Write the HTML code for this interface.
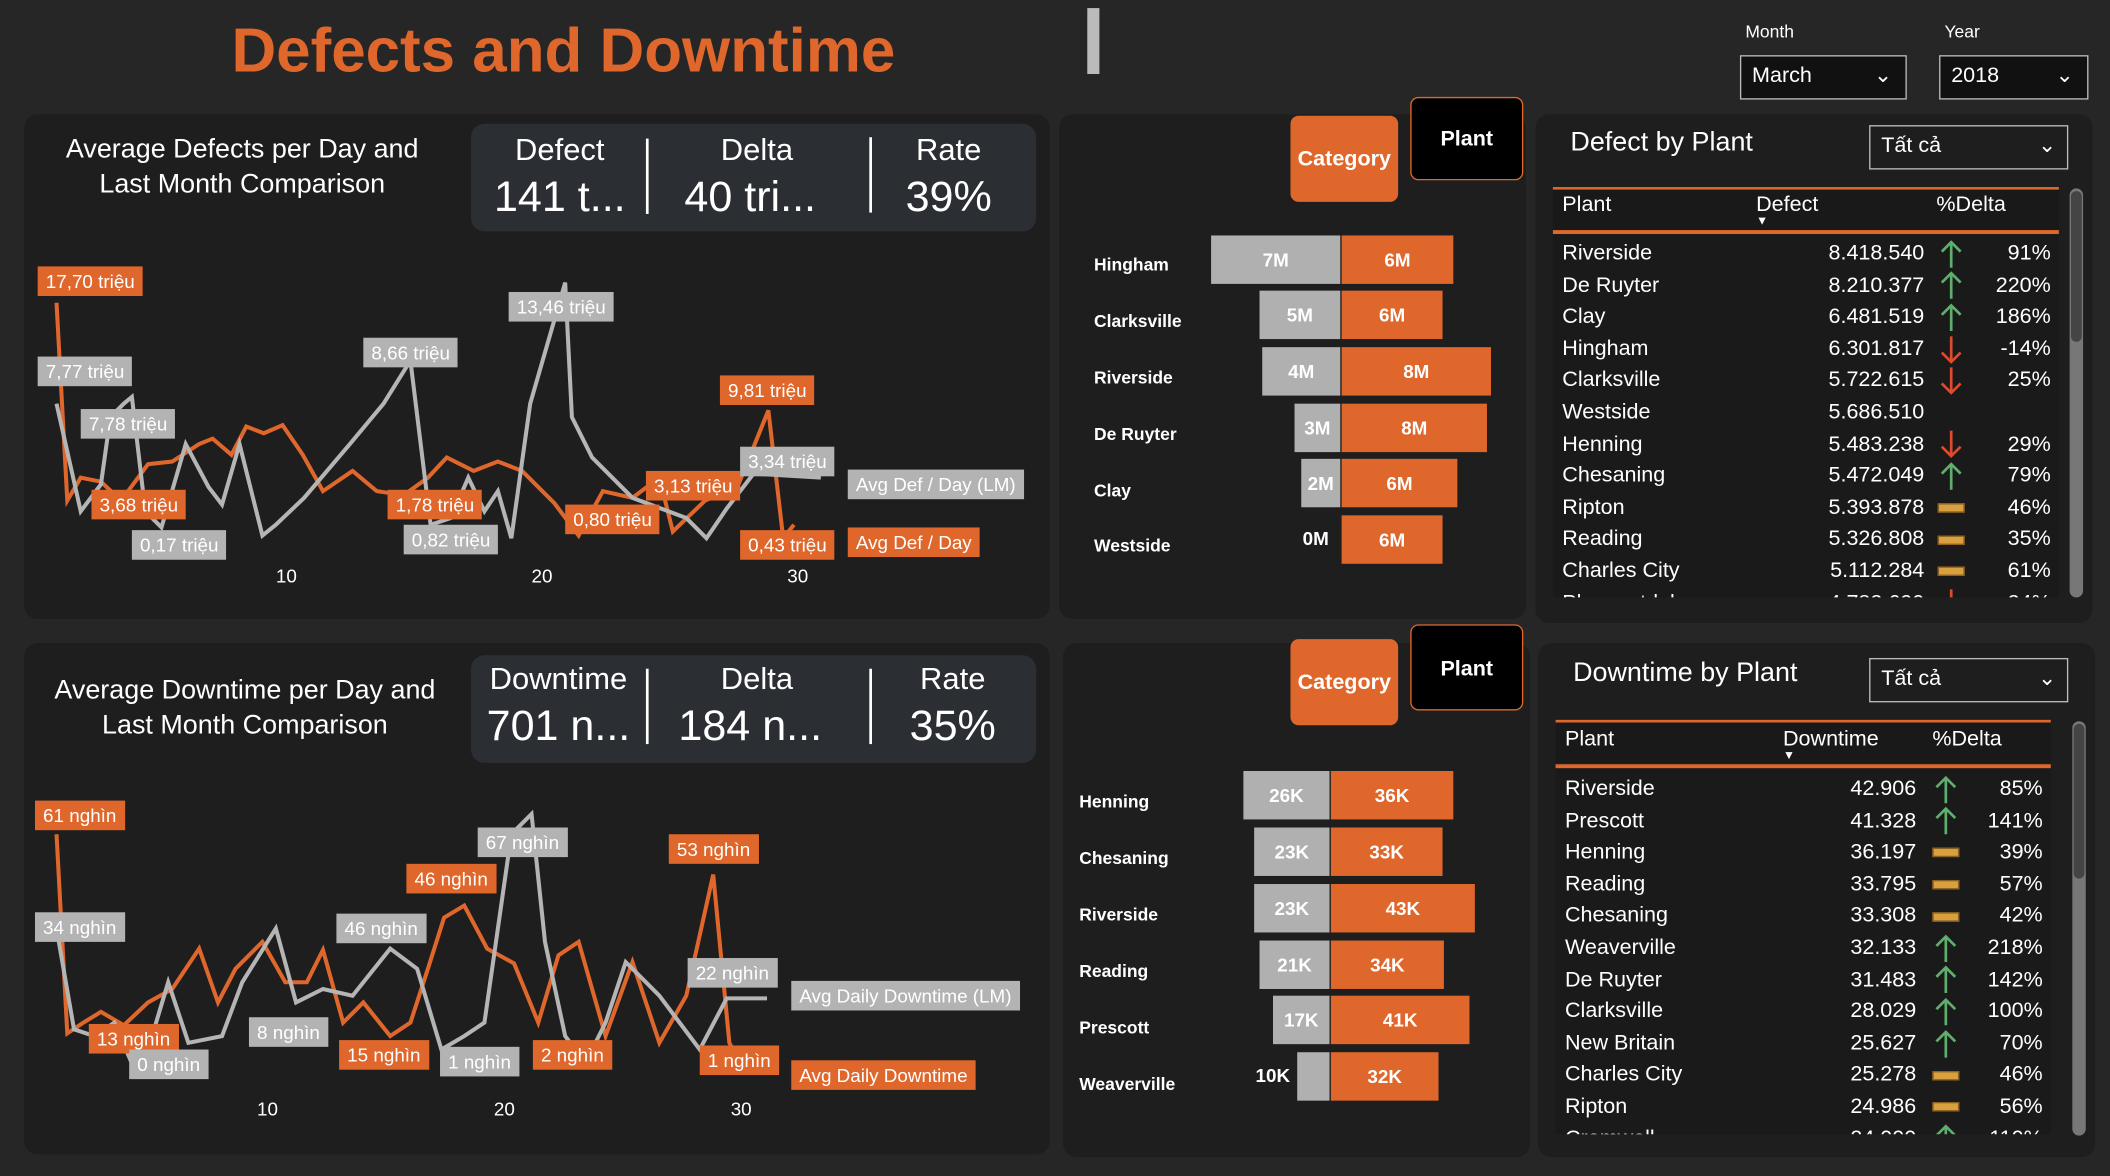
<!DOCTYPE html>
<html><head><meta charset="utf-8"><style>
*{margin:0;padding:0;box-sizing:border-box}
body{width:2110px;height:1176px;background:#262626;overflow:hidden;font-family:"Liberation Sans",sans-serif;color:#fff}
#w{width:1568px;height:874px;transform:scale(1.34566,1.34554);transform-origin:0 0;position:relative}
.a{position:absolute}
.p{position:absolute;background:#1e1e1e;border-radius:10px}
.kpi{position:absolute;background:#2b2e33;border-radius:10px}
.t{position:absolute;white-space:nowrap}
.lo{position:absolute;background:#e0672c;color:#fff;font-size:14px;padding:1px 6px;white-space:nowrap;line-height:20px}
.lg{position:absolute;background:#b3b3b3;color:#fff;font-size:14px;padding:1px 6px;white-space:nowrap;line-height:20px}
.btn{position:absolute;font-weight:bold;font-size:16px;text-align:center;border-radius:6px}
.bl{font-size:13px;font-weight:bold;position:absolute}
.bg{position:absolute;background:#b0b0b0;color:#fff;font-weight:bold;font-size:14px;text-align:center;line-height:36px;height:36px}
.bo{position:absolute;background:#e0672c;color:#fff;font-weight:bold;font-size:14px;text-align:center;line-height:36px;height:36px}
.row{position:absolute;font-size:16px;height:23px;line-height:23px}
.sel{position:absolute;border:1px solid #bbb;font-size:16px;padding:0 8px;line-height:30px}
</style></head><body><div id="w">
<div class="t" style="left:172px;top:10px;font-size:46px;font-weight:bold;color:#e0672c">Defects and Downtime</div>
<div class="a" style="left:808px;top:6px;width:9px;height:49px;background:#bbb"></div>
<div class="t" style="left:1297px;top:16px;font-size:13px">Month</div>
<div class="t" style="left:1445px;top:16px;font-size:13px">Year</div>
<div class="sel" style="left:1293px;top:41px;width:124px;height:33px;background:#111">March<span style="position:absolute;right:10px;top:0">&#8964;</span></div>
<div class="sel" style="left:1441px;top:41px;width:111px;height:33px;background:#111">2018<span style="position:absolute;right:10px;top:0">&#8964;</span></div>

<!-- top-left panel -->
<div class="p" style="left:18px;top:85px;width:762px;height:375px"></div>
<div class="t" style="left:30px;top:98px;width:300px;text-align:center;font-size:20px;line-height:26px;white-space:normal">Average Defects per Day and Last Month Comparison</div>
<div class="kpi" style="left:350px;top:92px;width:420px;height:80px"></div>
<div class="t" style="left:360px;top:98px;width:112px;text-align:center;font-size:23px">Defect</div>
<div class="t" style="left:360px;top:128px;width:112px;text-align:center;font-size:32px">141 t...</div>
<div class="a" style="left:480px;top:103px;width:2px;height:56px;background:#fff"></div>
<div class="t" style="left:495px;top:98px;width:135px;text-align:center;font-size:23px">Delta</div>
<div class="t" style="left:495px;top:128px;width:125px;text-align:center;font-size:32px">40 tri...</div>
<div class="a" style="left:646px;top:102px;width:2px;height:56px;background:#fff"></div>
<div class="t" style="left:660px;top:98px;width:90px;text-align:center;font-size:23px">Rate</div>
<div class="t" style="left:660px;top:128px;width:90px;text-align:center;font-size:32px">39%</div>
<svg class="a" style="left:0;top:0" width="780" height="470">
<polyline fill="none" stroke="#e0672c" stroke-width="3" points="42,225 50,372 60,355 75,358 90,372 110,345 128,343 148,330 158,326 172,338 183,317 196,322 210,316 225,338 240,365 262,350 280,365 300,368 318,355 332,340 352,350 370,343 388,350 412,374 430,398 448,365 470,370 490,355 500,395 524,372 548,362 571,305 582,400 590,390"/>
<polyline fill="none" stroke="#b5b5b5" stroke-width="3" points="42,300 60,380 75,360 82,310 92,300 98,295 108,380 120,392 138,330 155,362 165,375 178,330 195,398 205,390 226,370 260,330 285,300 305,268 320,390 335,385 348,355 360,380 370,365 380,400 394,300 420,210 425,310 440,340 470,370 510,385 525,400 540,378 560,352 610,355"/>
</svg>
<div class="lo" style="left:28px;top:198px">17,70 triệu</div>
<div class="lg" style="left:28px;top:265px">7,77 triệu</div>
<div class="lg" style="left:60px;top:304px">7,78 triệu</div>
<div class="lo" style="left:68px;top:364px">3,68 triệu</div>
<div class="lg" style="left:98px;top:394px">0,17 triệu</div>
<div class="lg" style="left:270px;top:251px">8,66 triệu</div>
<div class="lg" style="left:378px;top:217px">13,46 triệu</div>
<div class="lo" style="left:288px;top:364px">1,78 triệu</div>
<div class="lg" style="left:300px;top:390px">0,82 triệu</div>
<div class="lo" style="left:420px;top:375px">0,80 triệu</div>
<div class="lo" style="left:480px;top:350px">3,13 triệu</div>
<div class="lo" style="left:535px;top:279px">9,81 triệu</div>
<div class="lg" style="left:550px;top:332px">3,34 triệu</div>
<div class="lo" style="left:550px;top:394px">0,43 triệu</div>
<div class="lg" style="left:630px;top:349px">Avg Def / Day (LM)</div>
<div class="lo" style="left:630px;top:392px">Avg Def / Day</div>
<div class="t" style="left:205px;top:420px;font-size:14px">10</div>
<div class="t" style="left:395px;top:420px;font-size:14px">20</div>
<div class="t" style="left:585px;top:420px;font-size:14px">30</div>

<!-- bottom-left -->
<div class="p" style="left:18px;top:478px;width:762px;height:380px"></div>
<svg class="a" style="left:0;top:0" width="780" height="874">
<polyline fill="none" stroke="#e0672c" stroke-width="3" points="42,620 50,768 62,760 75,752 92,762 110,745 128,735 148,705 162,745 175,720 195,700 212,730 228,730 240,706 255,760 270,745 290,770 305,760 318,720 330,682 345,673 362,705 382,716 400,760 415,710 430,700 450,770 470,715 490,775 510,740 530,650 542,775 550,790"/>
<polyline fill="none" stroke="#b5b5b5" stroke-width="3" points="42,690 55,765 70,770 85,760 100,795 110,780 125,730 140,775 165,770 180,730 205,690 220,745 240,735 262,740 290,705 310,720 328,780 345,770 360,760 380,620 395,605 405,700 420,770 435,790 450,760 465,715 490,740 505,760 520,780 540,742 570,742"/>
</svg>
<div class="t" style="left:32px;top:500px;width:300px;text-align:center;font-size:20px;line-height:26px;white-space:normal">Average Downtime per Day and Last Month Comparison</div>
<div class="kpi" style="left:350px;top:487px;width:420px;height:80px"></div>
<div class="t" style="left:355px;top:491px;width:120px;text-align:center;font-size:23px">Downtime</div>
<div class="t" style="left:355px;top:521px;width:120px;text-align:center;font-size:32px">701 n...</div>
<div class="a" style="left:480px;top:497px;width:2px;height:56px;background:#fff"></div>
<div class="t" style="left:495px;top:491px;width:135px;text-align:center;font-size:23px">Delta</div>
<div class="t" style="left:495px;top:521px;width:125px;text-align:center;font-size:32px">184 n...</div>
<div class="a" style="left:646px;top:497px;width:2px;height:56px;background:#fff"></div>
<div class="t" style="left:663px;top:491px;width:90px;text-align:center;font-size:23px">Rate</div>
<div class="t" style="left:663px;top:521px;width:90px;text-align:center;font-size:32px">35%</div>
<div class="lo" style="left:26px;top:595px">61 nghìn</div>
<div class="lg" style="left:26px;top:678px">34 nghìn</div>
<div class="lo" style="left:66px;top:761px">13 nghìn</div>
<div class="lg" style="left:96px;top:780px">0 nghìn</div>
<div class="lg" style="left:185px;top:756px">8 nghìn</div>
<div class="lg" style="left:250px;top:679px">46 nghìn</div>
<div class="lo" style="left:302px;top:642px">46 nghìn</div>
<div class="lg" style="left:355px;top:615px">67 nghìn</div>
<div class="lo" style="left:252px;top:773px">15 nghìn</div>
<div class="lg" style="left:327px;top:778px">1 nghìn</div>
<div class="lo" style="left:396px;top:773px">2 nghìn</div>
<div class="lo" style="left:497px;top:620px">53 nghìn</div>
<div class="lg" style="left:511px;top:712px">22 nghìn</div>
<div class="lo" style="left:520px;top:777px">1 nghìn</div>
<div class="lg" style="left:588px;top:729px">Avg Daily Downtime (LM)</div>
<div class="lo" style="left:588px;top:788px">Avg Daily Downtime</div>
<div class="t" style="left:191px;top:816px;font-size:14px">10</div>
<div class="t" style="left:367px;top:816px;font-size:14px">20</div>
<div class="t" style="left:543px;top:816px;font-size:14px">30</div>

<!-- top middle bars -->
<div class="p" style="left:787px;top:85px;width:347px;height:375px"></div>
<div class="btn" style="left:959px;top:86px;width:80px;height:64px;background:#e0672c;line-height:66px">Category</div>
<div class="btn" style="left:1048px;top:72px;width:84px;height:62px;background:#000;border:1px solid #e0672c;line-height:62px">Plant</div>
<div class="bl" style="left:813px;top:189px">Hingham</div>
<div class="bl" style="left:813px;top:231px">Clarksville</div>
<div class="bl" style="left:813px;top:273px">Riverside</div>
<div class="bl" style="left:813px;top:315px">De Ruyter</div>
<div class="bl" style="left:813px;top:357px">Clay</div>
<div class="bl" style="left:813px;top:398px">Westside</div>
<div class="bg" style="left:900px;top:175px;width:96px">7M</div><div class="bo" style="left:997px;top:175px;width:83px">6M</div>
<div class="bg" style="left:936px;top:216px;width:60px">5M</div><div class="bo" style="left:997px;top:216px;width:75px">6M</div>
<div class="bg" style="left:938px;top:258px;width:58px">4M</div><div class="bo" style="left:997px;top:258px;width:111px">8M</div>
<div class="bg" style="left:962px;top:300px;width:34px">3M</div><div class="bo" style="left:997px;top:300px;width:108px">8M</div>
<div class="bg" style="left:967px;top:341px;width:29px">2M</div><div class="bo" style="left:997px;top:341px;width:86px">6M</div>
<div class="t" style="left:968px;top:392px;font-size:14px;font-weight:bold">0M</div><div class="bo" style="left:997px;top:383px;width:75px">6M</div>

<!-- bottom middle bars -->
<div class="p" style="left:790px;top:478px;width:347px;height:382px"></div>
<div class="btn" style="left:959px;top:475px;width:80px;height:64px;background:#e0672c;line-height:66px">Category</div>
<div class="btn" style="left:1048px;top:464px;width:84px;height:64px;background:#000;border:1px solid #e0672c;line-height:66px">Plant</div>
<div class="bl" style="left:802px;top:588px">Henning</div>
<div class="bl" style="left:802px;top:630px">Chesaning</div>
<div class="bl" style="left:802px;top:672px">Riverside</div>
<div class="bl" style="left:802px;top:714px">Reading</div>
<div class="bl" style="left:802px;top:756px">Prescott</div>
<div class="bl" style="left:802px;top:798px">Weaverville</div>
<div class="bg" style="left:924px;top:573px;width:64px">26K</div><div class="bo" style="left:989px;top:573px;width:91px">36K</div>
<div class="bg" style="left:932px;top:615px;width:56px">23K</div><div class="bo" style="left:989px;top:615px;width:83px">33K</div>
<div class="bg" style="left:932px;top:657px;width:56px">23K</div><div class="bo" style="left:989px;top:657px;width:107px">43K</div>
<div class="bg" style="left:936px;top:699px;width:52px">21K</div><div class="bo" style="left:989px;top:699px;width:84px">34K</div>
<div class="bg" style="left:946px;top:740px;width:42px">17K</div><div class="bo" style="left:989px;top:740px;width:103px">41K</div>
<div class="bg" style="left:964px;top:782px;width:24px"></div><div class="t" style="left:933px;top:791px;font-size:14px;font-weight:bold">10K</div><div class="bo" style="left:989px;top:782px;width:80px">32K</div>

<!-- defect table -->
<div class="p" style="left:1141px;top:85px;width:414px;height:378px"></div>
<div class="t" style="left:1167px;top:95px;font-size:20px">Defect by Plant</div>
<div class="sel" style="left:1389px;top:93px;width:148px;height:33px">Tất cả<span style="position:absolute;right:8px;top:0">&#8964;</span></div>
<div class="a" style="left:1154px;top:139px;width:376px;height:2px;background:#e0672c"></div>
<div class="a" style="left:1154px;top:141px;width:376px;height:30px;background:#191919"></div>
<div class="a" style="left:1154px;top:171px;width:376px;height:3px;background:#e0672c"></div>
<div class="t" style="left:1161px;top:144px;font-size:16px">Plant</div>
<div class="t" style="left:1305px;top:144px;font-size:16px">Defect</div>
<div class="t" style="left:1305px;top:159px;font-size:9px">&#9660;</div>
<div class="t" style="left:1439px;top:144px;font-size:16px">%Delta</div>
<div class="a" style="left:1154px;top:174px;width:376px;height:270px;background:#1a1a1a;overflow:hidden;font-size:16px">
<div id="dt"></div></div>
<div class="a" style="left:1538px;top:140px;width:10px;height:304px;border-radius:5px;background:#777"></div>
<div class="a" style="left:1539px;top:142px;width:8px;height:112px;border-radius:4px;background:#444"></div>

<!-- downtime table -->
<div class="p" style="left:1143px;top:478px;width:414px;height:382px"></div>
<div class="t" style="left:1169px;top:489px;font-size:20px">Downtime by Plant</div>
<div class="sel" style="left:1389px;top:489px;width:148px;height:33px">Tất cả<span style="position:absolute;right:8px;top:0">&#8964;</span></div>
<div class="a" style="left:1156px;top:535px;width:368px;height:2px;background:#e0672c"></div>
<div class="a" style="left:1156px;top:537px;width:368px;height:30px;background:#191919"></div>
<div class="a" style="left:1156px;top:568px;width:368px;height:3px;background:#e0672c"></div>
<div class="t" style="left:1163px;top:541px;font-size:16px">Plant</div>
<div class="t" style="left:1325px;top:541px;font-size:16px">Downtime</div>
<div class="t" style="left:1325px;top:556px;font-size:9px">&#9660;</div>
<div class="t" style="left:1436px;top:541px;font-size:16px">%Delta</div>
<div class="a" style="left:1156px;top:571px;width:368px;height:272px;background:#1a1a1a;overflow:hidden;font-size:16px">
<div id="dd"></div></div>
<div class="a" style="left:1540px;top:536px;width:10px;height:308px;border-radius:5px;background:#777"></div>
<div class="a" style="left:1541px;top:538px;width:8px;height:115px;border-radius:4px;background:#444"></div>
</div>
<script>
function ic(k){if(k=='u')return '<svg width="20" height="22" style="vertical-align:middle"><path d="M10 21V2M3 9L10 2L17 9" fill="none" stroke="#5fae6e" stroke-width="2"/></svg>';if(k=='d')return '<svg width="20" height="22" style="vertical-align:middle"><path d="M10 1V20M3 13L10 20L17 13" fill="none" stroke="#e04a2c" stroke-width="2"/></svg>';if(k=='m')return '<span style="display:inline-block;width:20px;height:7px;background:#d9a040;border:1px solid #8a6020;vertical-align:middle"></span>';return '';}
function build(id,rows,cx,vx,ix,px,sp,top){var h='';rows.forEach(function(r,i){var y=top+i*sp;h+='<div class="row" style="left:'+cx+'px;top:'+y+'px">'+r[0]+'</div><div class="row" style="right:'+vx+'px;top:'+y+'px">'+r[1]+'</div><div class="row" style="left:'+ix+'px;top:'+y+'px">'+ic(r[2])+'</div><div class="row" style="right:'+px+'px;top:'+y+'px">'+r[3]+'</div>';});document.getElementById(id).innerHTML=h;}
build('dt',[["Riverside","8.418.540","u","91%"],["De Ruyter","8.210.377","u","220%"],["Clay","6.481.519","u","186%"],["Hingham","6.301.817","d","-14%"],["Clarksville","5.722.615","d","25%"],["Westside","5.686.510","",""],["Henning","5.483.238","d","29%"],["Chesaning","5.472.049","u","79%"],["Ripton","5.393.878","m","46%"],["Reading","5.326.808","m","35%"],["Charles City","5.112.284","m","61%"],["Pleasantdale","4.782.690","d","24%"]],7,100,286,6,23.6,3);
build('dd',[["Riverside","42.906","u","85%"],["Prescott","41.328","u","141%"],["Henning","36.197","m","39%"],["Reading","33.795","m","57%"],["Chesaning","33.308","m","42%"],["Weaverville","32.133","u","218%"],["De Ruyter","31.483","u","142%"],["Clarksville","28.029","u","100%"],["New Britain","25.627","u","70%"],["Charles City","25.278","m","46%"],["Ripton","24.986","m","56%"],["Cromwell","24.000","u","110%"]],7,100,280,6,23.6,4);
</script>
</body></html>
